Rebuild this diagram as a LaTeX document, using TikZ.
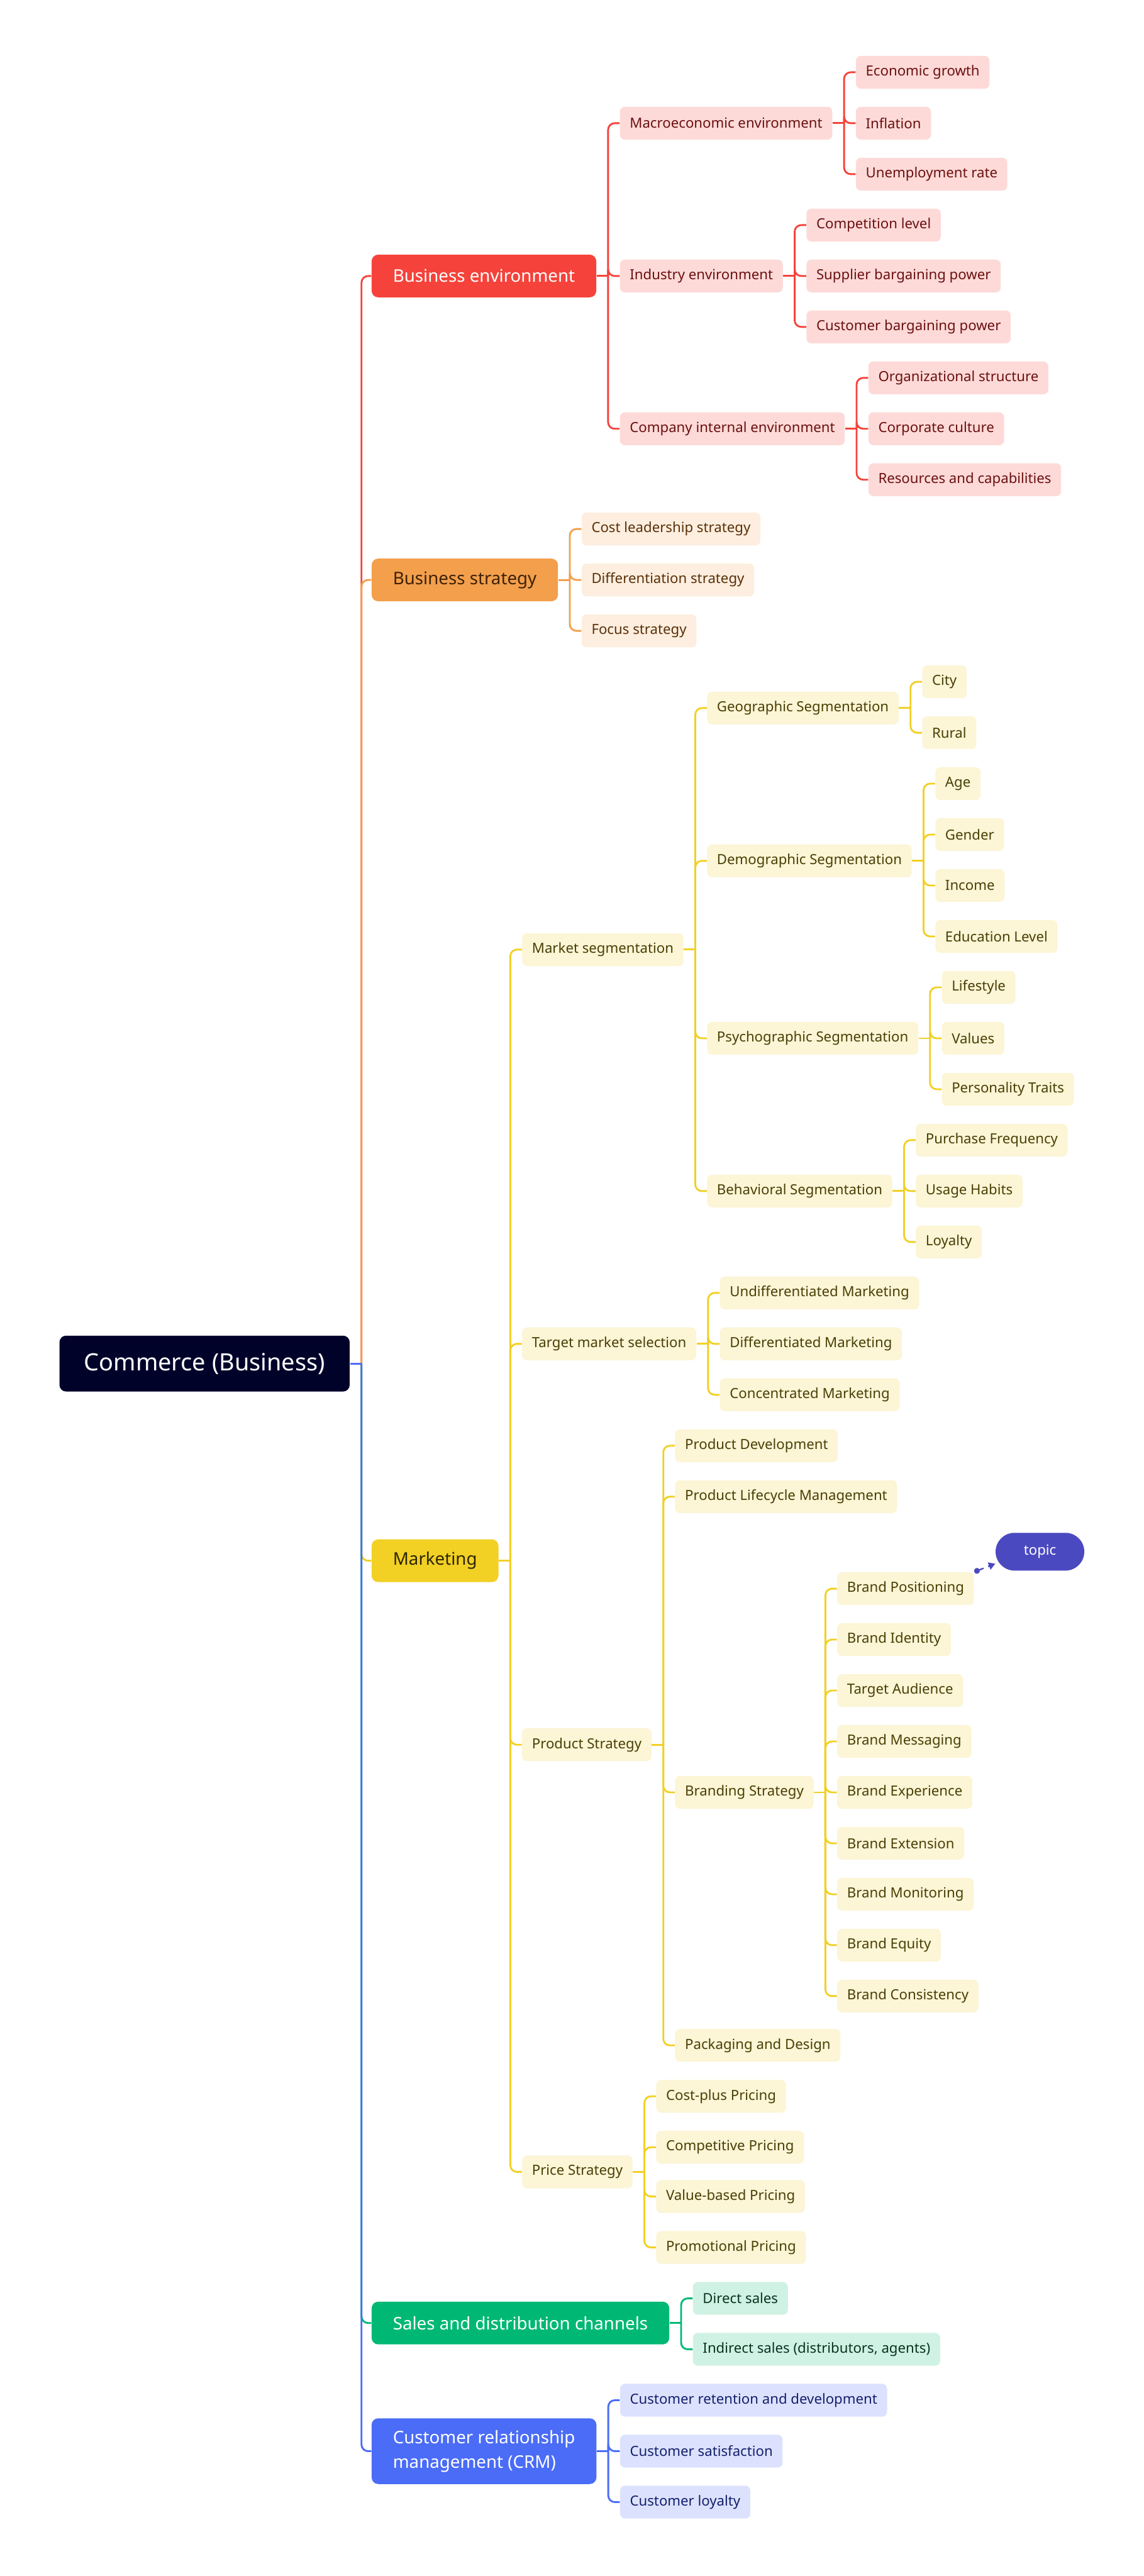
\documentclass[tikz,border=0pt]{standalone}
\usepackage{fontspec}
\setmainfont{Noto Sans}
\usetikzlibrary{calc,arrows.meta}

\definecolor{rootnavy}{HTML}{00022A}
\definecolor{envred}{HTML}{F5433B}
\definecolor{envredlt}{HTML}{FDDAD8}
\definecolor{envredtx}{HTML}{6B1010}
\definecolor{stratorg}{HTML}{F39F4C}
\definecolor{stratorglt}{HTML}{FDEEDF}
\definecolor{stratorgtx}{HTML}{5A3008}
\definecolor{mktyel}{HTML}{F2D024}
\definecolor{mktyellt}{HTML}{FCF5D6}
\definecolor{mktyeltx}{HTML}{4A3F05}
\definecolor{salesgrn}{HTML}{00B874}
\definecolor{salesgrnlt}{HTML}{D0F2E4}
\definecolor{salesgrntx}{HTML}{0B3322}
\definecolor{crmblu}{HTML}{4A6CF7}
\definecolor{crmblult}{HTML}{DCE2FD}
\definecolor{crmblutx}{HTML}{14206E}
\definecolor{topicind}{HTML}{4B49C0}

\begin{document}
\begin{tikzpicture}[x=1pt, y=-1pt,
    base/.style={rounded corners=3pt, inner xsep=6pt, inner ysep=0pt, minimum height=20pt,
      anchor=west, font=\fontsize{8.5}{10}\selectfont},
    main/.style={base, rounded corners=4pt, inner xsep=13pt, minimum height=26pt,
      font=\fontsize{10.6}{15}\selectfont},
    link/.style={line width=1.1pt},
    redsub/.style={base, fill=envredlt, text=envredtx},
    orgsub/.style={base, fill=stratorglt, text=stratorgtx},
    yelsub/.style={base, fill=mktyellt, text=mktyeltx},
    grnsub/.style={base, fill=salesgrnlt, text=salesgrntx},
    blusub/.style={base, fill=crmblult, text=crmblutx}]

  \useasboundingbox (0,0) rectangle (696,1568);

  % root
  \node[base, rounded corners=4pt, fill=rootnavy, text=white, inner xsep=15pt, minimum height=34pt,
    font=\fontsize{14.5}{17}\selectfont] (root) at (36,830) {Commerce (Business)};

  % main branches
  \node[main, fill=envred, text=white] (env) at (226,168) {Business environment};
  \node[main, fill=stratorg, text=stratorgtx!70!black] (strat) at (226,353) {Business strategy};
  \node[main, fill=mktyel, text=mktyeltx!60!black] (mkt) at (226,950) {Marketing};
  \node[main, fill=salesgrn, text=white] (sales) at (226,1414) {Sales and distribution channels};
  \node[main, fill=crmblu, text=white, align=left, minimum height=40pt, inner ysep=3pt] (crm) at (226,1492)
    {Customer relationship\\management (CRM)};

  \draw[link, envred, rounded corners=4pt] ($(root.east)+(7,0)$) |- (env.west);
  \draw[link, stratorg, rounded corners=4pt] ($(root.east)+(7,0)$) |- (strat.west);
  \draw[link, mktyel, rounded corners=4pt] ($(root.east)+(7,0)$) |- (mkt.west);
  \draw[link, salesgrn, rounded corners=4pt] ($(root.east)+(7,0)$) |- (sales.west);
  \draw[link, crmblu, rounded corners=4pt] ($(root.east)+(7,0)$) |- (crm.west);
  \draw[link, crmblu] (root.east) -- ++(7,0);

  % business environment
  \node[redsub] (mac) at ($(env.east |- 0,75)+(14,0)$) {Macroeconomic environment};
  \node[redsub] (ind) at ($(env.east |- 0,168)+(14,0)$) {Industry environment};
  \node[redsub] (comp) at ($(env.east |- 0,261)+(14,0)$) {Company internal environment};

  \node[redsub] (eg) at ($(mac.east |- 0,44)+(14,0)$) {Economic growth};
  \node[redsub] (infl) at ($(mac.east |- 0,75)+(14,0)$) {Inflation};
  \node[redsub] (unemp) at ($(mac.east |- 0,106)+(14,0)$) {Unemployment rate};

  \node[redsub] (complvl) at ($(ind.east |- 0,137)+(14,0)$) {Competition level};
  \node[redsub] (supp) at ($(ind.east |- 0,168)+(14,0)$) {Supplier bargaining power};
  \node[redsub] (custbp) at ($(ind.east |- 0,199)+(14,0)$) {Customer bargaining power};

  \node[redsub] (org) at ($(comp.east |- 0,230)+(14,0)$) {Organizational structure};
  \node[redsub] (cult) at ($(comp.east |- 0,261)+(14,0)$) {Corporate culture};
  \node[redsub] (res) at ($(comp.east |- 0,292)+(14,0)$) {Resources and capabilities};

  \foreach \p/\c in {env/mac, env/ind, env/comp, mac/eg, mac/infl, mac/unemp,
      ind/complvl, ind/supp, ind/custbp, comp/org, comp/cult, comp/res} {
    \draw[link, envred, rounded corners=4pt] ($(\p.east)+(7,0)$) |- (\c.west);
    \draw[link, envred] (\p.east) -- ++(7,0);
  }

  % business strategy
  \node[orgsub] (cost) at ($(strat.east |- 0,322)+(14,0)$) {Cost leadership strategy};
  \node[orgsub] (diff) at ($(strat.east |- 0,353)+(14,0)$) {Differentiation strategy};
  \node[orgsub] (focus) at ($(strat.east |- 0,384)+(14,0)$) {Focus strategy};

  \foreach \c in {cost, diff, focus}
    \draw[link, stratorg, rounded corners=4pt] ($(strat.east)+(7,0)$) |- (\c.west);
  \draw[link, stratorg] (strat.east) -- ++(7,0);

  % marketing
  \node[yelsub] (seg) at ($(mkt.east |- 0,578)+(14,0)$) {Market segmentation};
  \node[yelsub] (target) at ($(mkt.east |- 0,818)+(14,0)$) {Target market selection};
  \node[yelsub] (prod) at ($(mkt.east |- 0,1062)+(14,0)$) {Product Strategy};
  \node[yelsub] (price) at ($(mkt.east |- 0,1322)+(14,0)$) {Price Strategy};

  \node[yelsub] (geo) at ($(seg.east |- 0,431)+(14,0)$) {Geographic Segmentation};
  \node[yelsub] (demo) at ($(seg.east |- 0,524)+(14,0)$) {Demographic Segmentation};
  \node[yelsub] (psy) at ($(seg.east |- 0,632)+(14,0)$) {Psychographic Segmentation};
  \node[yelsub] (beh) at ($(seg.east |- 0,725)+(14,0)$) {Behavioral Segmentation};

  \node[yelsub] (city) at ($(geo.east |- 0,415)+(14,0)$) {City};
  \node[yelsub] (rural) at ($(geo.east |- 0,446)+(14,0)$) {Rural};

  \node[yelsub] (age) at ($(demo.east |- 0,477)+(14,0)$) {Age};
  \node[yelsub] (gender) at ($(demo.east |- 0,508)+(14,0)$) {Gender};
  \node[yelsub] (income) at ($(demo.east |- 0,539)+(14,0)$) {Income};
  \node[yelsub] (edu) at ($(demo.east |- 0,570)+(14,0)$) {Education Level};

  \node[yelsub] (life) at ($(psy.east |- 0,601)+(14,0)$) {Lifestyle};
  \node[yelsub] (values) at ($(psy.east |- 0,632)+(14,0)$) {Values};
  \node[yelsub] (pers) at ($(psy.east |- 0,663)+(14,0)$) {Personality Traits};

  \node[yelsub] (freq) at ($(beh.east |- 0,694)+(14,0)$) {Purchase Frequency};
  \node[yelsub] (habits) at ($(beh.east |- 0,725)+(14,0)$) {Usage Habits};
  \node[yelsub] (loyal) at ($(beh.east |- 0,756)+(14,0)$) {Loyalty};

  \node[yelsub] (undiff) at ($(target.east |- 0,787)+(14,0)$) {Undifferentiated Marketing};
  \node[yelsub] (diffm) at ($(target.east |- 0,818)+(14,0)$) {Differentiated Marketing};
  \node[yelsub] (conc) at ($(target.east |- 0,849)+(14,0)$) {Concentrated Marketing};

  \node[yelsub] (pdev) at ($(prod.east |- 0,880)+(14,0)$) {Product Development};
  \node[yelsub] (plm) at ($(prod.east |- 0,911)+(14,0)$) {Product Lifecycle Management};
  \node[yelsub] (brand) at ($(prod.east |- 0,1091)+(14,0)$) {Branding Strategy};
  \node[yelsub] (pack) at ($(prod.east |- 0,1245)+(14,0)$) {Packaging and Design};

  \node[yelsub] (bpos) at ($(brand.east |- 0,967)+(14,0)$) {Brand Positioning};
  \node[yelsub] (bid) at ($(brand.east |- 0,998)+(14,0)$) {Brand Identity};
  \node[yelsub] (baud) at ($(brand.east |- 0,1029)+(14,0)$) {Target Audience};
  \node[yelsub] (bmsg) at ($(brand.east |- 0,1060)+(14,0)$) {Brand Messaging};
  \node[yelsub] (bexp) at ($(brand.east |- 0,1091)+(14,0)$) {Brand Experience};
  \node[yelsub] (bext) at ($(brand.east |- 0,1122)+(14,0)$) {Brand Extension};
  \node[yelsub] (bmon) at ($(brand.east |- 0,1153)+(14,0)$) {Brand Monitoring};
  \node[yelsub] (beq) at ($(brand.east |- 0,1184)+(14,0)$) {Brand Equity};
  \node[yelsub] (bcons) at ($(brand.east |- 0,1215)+(14,0)$) {Brand Consistency};

  \node[yelsub] (cplus) at ($(price.east |- 0,1276)+(14,0)$) {Cost-plus Pricing};
  \node[yelsub] (compet) at ($(price.east |- 0,1307)+(14,0)$) {Competitive Pricing};
  \node[yelsub] (valb) at ($(price.east |- 0,1337)+(14,0)$) {Value-based Pricing};
  \node[yelsub] (promo) at ($(price.east |- 0,1368)+(14,0)$) {Promotional Pricing};

  \foreach \p/\c in {mkt/seg, mkt/target, mkt/prod, mkt/price,
      seg/geo, seg/demo, seg/psy, seg/beh, geo/city, geo/rural,
      demo/age, demo/gender, demo/income, demo/edu, psy/life, psy/values, psy/pers,
      beh/freq, beh/habits, beh/loyal, target/undiff, target/diffm, target/conc,
      prod/pdev, prod/plm, prod/brand, prod/pack,
      brand/bpos, brand/bid, brand/baud, brand/bmsg, brand/bexp, brand/bext,
      brand/bmon, brand/beq, brand/bcons,
      price/cplus, price/compet, price/valb, price/promo} {
    \draw[link, mktyel, rounded corners=4pt] ($(\p.east)+(7,0)$) |- (\c.west);
    \draw[link, mktyel] (\p.east) -- ++(7,0);
  }

  % floating topic
  \node[fill=topicind, text=white, rounded corners=11.5pt, minimum width=54pt, minimum height=23pt,
    inner sep=0pt, font=\fontsize{8.5}{10}\selectfont] (topic) at (633,944.5) {topic};
  \draw[topicind, line width=0.9pt, dashed, {Circle[length=3.5pt]}-{Triangle[length=4pt, width=4.5pt]}]
    (bpos.north east) -- (topic.195);

  % sales and distribution channels
  \node[grnsub] (direct) at ($(sales.east |- 0,1399)+(14,0)$) {Direct sales};
  \node[grnsub] (indirect) at ($(sales.east |- 0,1430)+(14,0)$) {Indirect sales (distributors, agents)};

  \foreach \c in {direct, indirect}
    \draw[link, salesgrn, rounded corners=4pt] ($(sales.east)+(7,0)$) |- (\c.west);
  \draw[link, salesgrn] (sales.east) -- ++(7,0);

  % crm
  \node[blusub] (ret) at ($(crm.east |- 0,1461)+(14,0)$) {Customer retention and development};
  \node[blusub] (satis) at ($(crm.east |- 0,1492)+(14,0)$) {Customer satisfaction};
  \node[blusub] (cloy) at ($(crm.east |- 0,1523)+(14,0)$) {Customer loyalty};

  \foreach \c in {ret, satis, cloy}
    \draw[link, crmblu, rounded corners=4pt] ($(crm.east)+(7,0)$) |- (\c.west);
  \draw[link, crmblu] (crm.east) -- ++(7,0);

\end{tikzpicture}
\end{document}
